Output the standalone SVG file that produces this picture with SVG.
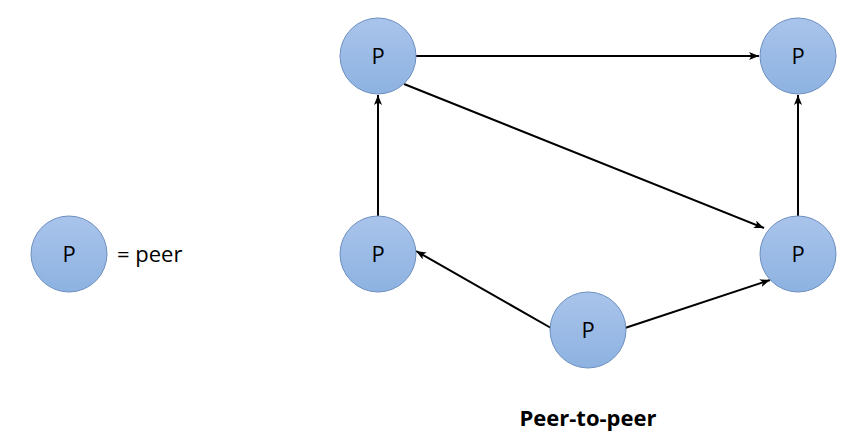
<svg xmlns="http://www.w3.org/2000/svg" width="861" height="447" viewBox="0 0 861 447">
<defs>
<linearGradient id="g" x1="0" y1="0" x2="0" y2="1">
<stop offset="0" stop-color="#a9c4eb"/>
<stop offset="1" stop-color="#8db2e1"/>
</linearGradient>
<marker id="arr" viewBox="0 0 10 8" refX="10" refY="4" markerWidth="10" markerHeight="8" markerUnits="userSpaceOnUse" orient="auto">
<path d="M0,0 L10,4 L0,8 L2.5,4 Z" fill="#000"/>
</marker>
</defs>
<style>
.n{fill:url(#g);stroke:#6c8ebf;stroke-width:1}
.t{font-family:"Open Sans","Noto Sans",sans-serif;font-size:22px;fill:#000}
.e{stroke:#000;stroke-width:2;fill:none;marker-end:url(#arr)}
</style>
<rect width="861" height="447" fill="#fff"/>
<g id="connectors">
<line class="e" x1="378" y1="216" x2="378" y2="95"/>
<line class="e" x1="416" y1="56" x2="759" y2="56"/>
<line class="e" x1="404" y1="84" x2="764" y2="228"/>
<line class="e" x1="798" y1="216" x2="798" y2="95"/>
<line class="e" x1="551" y1="328" x2="416" y2="251"/>
<line class="e" x1="625" y1="328" x2="770" y2="280"/>
</g>
<g id="legend">
<circle class="n" cx="69" cy="254" r="38"/>
<text class="t" x="69" y="262" text-anchor="middle">P</text>
<text class="t" x="117" y="262">= peer</text>
</g>
<g id="p1"><circle class="n" cx="378" cy="56" r="38"/><text class="t" x="378" y="64" text-anchor="middle">P</text></g>
<g id="p2"><circle class="n" cx="798" cy="56" r="38"/><text class="t" x="798" y="64" text-anchor="middle">P</text></g>
<g id="p3"><circle class="n" cx="378" cy="254" r="38"/><text class="t" x="378" y="262" text-anchor="middle">P</text></g>
<g id="p4"><circle class="n" cx="798" cy="254" r="38"/><text class="t" x="798" y="262" text-anchor="middle">P</text></g>
<g id="p5"><circle class="n" cx="588" cy="330" r="38"/><text class="t" x="588" y="338" text-anchor="middle">P</text></g>
<g id="title"><text class="t" x="588" y="426" text-anchor="middle" font-weight="bold">Peer-to-peer</text></g>
</svg>
